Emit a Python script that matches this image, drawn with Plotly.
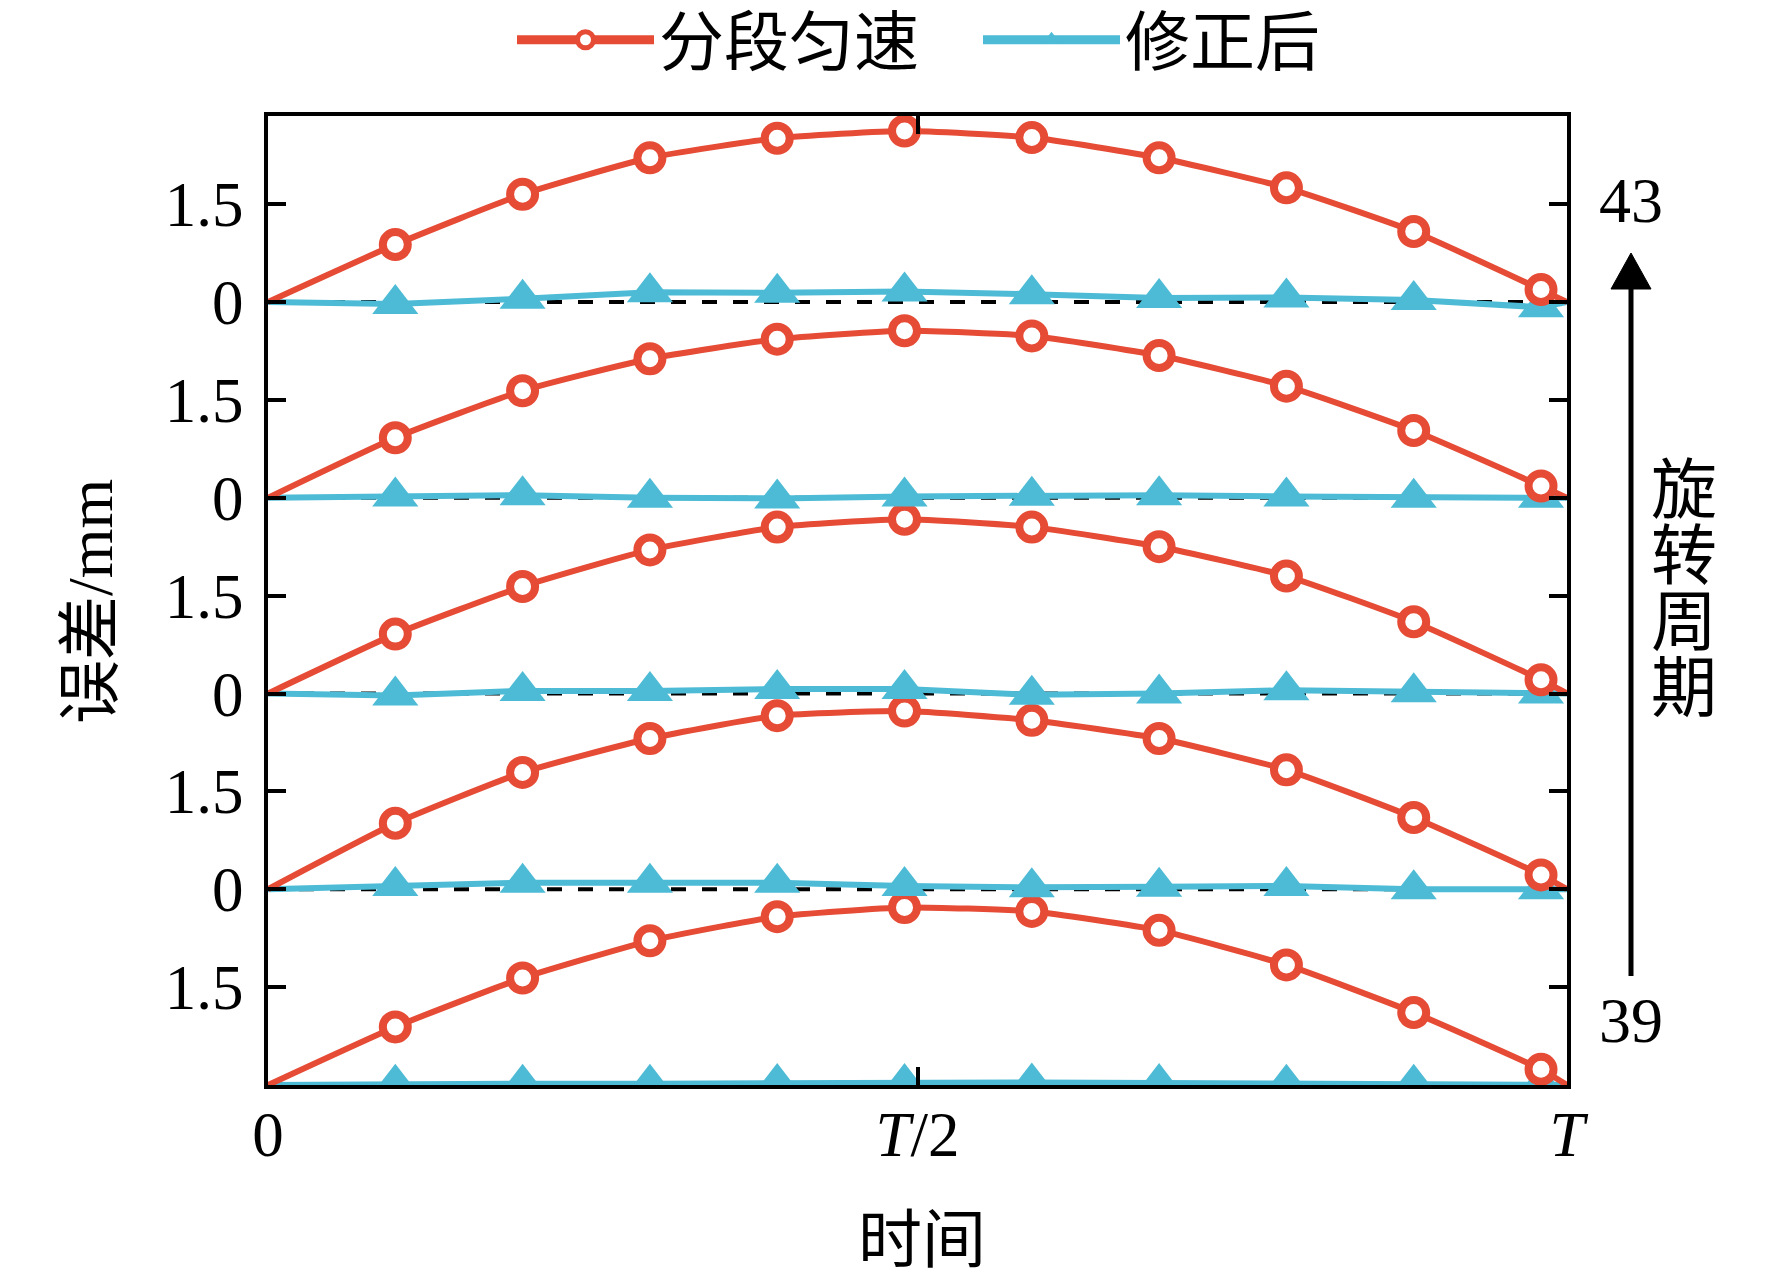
import plotly.graph_objects as go

# time as a fraction of one rotation period T
time_frac = [0.0, 0.098, 0.196, 0.294, 0.392, 0.490, 0.588, 0.686, 0.784, 0.882, 0.980, 1.0]

# rotation periods, bottom to top
periods = [39, 40, 41, 42, 43]

# 分段匀速 error (mm), one list per period
piecewise_39 = [0, 0.89, 1.64, 2.21, 2.58, 2.72, 2.66, 2.37, 1.84, 1.11, 0.24, 0]
piecewise_40 = [0, 1.01, 1.79, 2.31, 2.66, 2.73, 2.59, 2.31, 1.83, 1.10, 0.22, 0]
piecewise_41 = [0, 0.91, 1.64, 2.20, 2.55, 2.67, 2.55, 2.25, 1.80, 1.10, 0.21, 0]
piecewise_42 = [0, 0.92, 1.64, 2.13, 2.43, 2.56, 2.48, 2.18, 1.71, 1.03, 0.18, 0]
piecewise_43 = [0, 0.88, 1.65, 2.21, 2.51, 2.62, 2.52, 2.21, 1.75, 1.08, 0.19, 0]

# 修正后 error (mm), one list per period
corrected_39 = [0, 0.02, 0.02, 0.02, 0.03, 0.03, 0.04, 0.03, 0.02, 0.02, 0.01, 0]
corrected_40 = [0, 0.05, 0.10, 0.10, 0.10, 0.05, 0.03, 0.04, 0.05, 0.00, 0.00, 0]
corrected_41 = [0, -0.03, 0.04, 0.04, 0.07, 0.07, -0.02, 0.00, 0.05, 0.02, 0.00, 0]
corrected_42 = [0, 0.02, 0.04, 0.00, -0.01, 0.02, 0.03, 0.04, 0.02, 0.00, 0.00, 0]
corrected_43 = [0, -0.03, 0.05, 0.15, 0.14, 0.16, 0.12, 0.06, 0.07, 0.03, -0.08, 0]

piecewise = [piecewise_39, piecewise_40, piecewise_41, piecewise_42, piecewise_43]
corrected = [corrected_39, corrected_40, corrected_41, corrected_42, corrected_43]

y_tickvals = [1.5, 3, 4.5, 6, 7.5, 9, 10.5, 12, 13.5]
y_ticktext = ["1.5", "0", "1.5", "0", "1.5", "0", "1.5", "0", "1.5"]
x_tickvals = [0, 0.5, 1]
x_ticktext = ["0", "<i>T</i>/2", "<i>T</i>"]

band_step = 3
RED = "#E64B35"
BLUE = "#4DBBD5"
FONT = "Liberation Serif, Noto Sans CJK SC"

# the page body adds an 8px offset, so the figure is a little smaller
PAGE = 8
W, H = 1772 - PAGE, 1281 - PAGE
L, R, T, B = 260, 205, 108, 196
pw, ph = W - L - R, H - T - B


def px(xs):
    # screen x (reference pixels) -> paper x
    return (xs - PAGE - L) / pw


def py(ys):
    # screen y (reference pixels) -> paper y
    return (H - B - (ys - PAGE)) / ph


fig = go.Figure()

for i, p in enumerate(periods):
    off = i * band_step
    red_y = [v + off for v in piecewise[i]]
    blue_y = [v + off for v in corrected[i]]
    fig.add_shape(type="line", xref="x", yref="y", x0=0, x1=1, y0=off, y1=off,
                  line=dict(color="black", width=4, dash="15px,16px"), layer="below")
    # lines over the whole period, markers only at the sample points
    fig.add_trace(go.Scatter(x=time_frac, y=blue_y, mode="lines", showlegend=False,
                             line=dict(color=BLUE, width=6)))
    fig.add_trace(go.Scatter(x=time_frac[1:-1], y=blue_y[1:-1], mode="markers", showlegend=False,
                             marker=dict(symbol="triangle-up", size=40, color=BLUE, line=dict(width=0))))
    fig.add_trace(go.Scatter(x=time_frac, y=red_y, mode="lines", showlegend=False,
                             line=dict(color=RED, width=6, shape="spline", smoothing=0.5)))
    fig.add_trace(go.Scatter(x=time_frac[1:-1], y=red_y[1:-1], mode="markers", showlegend=False,
                             marker=dict(symbol="circle", size=25, color="white",
                                         line=dict(color=RED, width=8))))

# legend entries
fig.add_trace(go.Scatter(x=[None], y=[None], mode="lines+markers", name="分段匀速",
                         line=dict(color=RED, width=9),
                         marker=dict(symbol="circle", size=16, color="white", line=dict(color=RED, width=5))))
fig.add_trace(go.Scatter(x=[None], y=[None], mode="lines+markers", name="修正后",
                         line=dict(color=BLUE, width=9),
                         marker=dict(symbol="triangle-up", size=16, color=BLUE, line=dict(width=0))))

axis_common = dict(showline=True, linecolor="black", linewidth=4, mirror="ticks",
                   ticks="inside", ticklen=18, tickwidth=4, tickcolor="black",
                   showgrid=False, zeroline=False,
                   tickfont=dict(family=FONT, size=63, color="black"))

fig.update_xaxes(range=[0, 1], tickmode="array", tickvals=x_tickvals, ticktext=x_ticktext,
                 ticklabelstandoff=-9, **axis_common)
fig.update_yaxes(range=[0, 969 / 65.25], tickmode="array", tickvals=y_tickvals, ticktext=y_ticktext,
                 ticklabelstandoff=8, **axis_common)

annotations = [
    dict(text="误差/mm", x=px(90), y=py(602), textangle=-90, font=dict(size=64)),
    dict(text="时间", x=px(922), y=py(1240), font=dict(size=64)),
    dict(text="43", x=px(1631), y=py(200), font=dict(size=64)),
    dict(text="39", x=px(1631), y=py(1020), font=dict(size=64)),
]
for k, ch in enumerate("旋转周期"):
    annotations.append(dict(text=ch, x=px(1684), y=py(490 + 66 * k), font=dict(size=66)))
for a in annotations:
    a.update(xref="paper", yref="paper", showarrow=False, xanchor="center", yanchor="middle")
    a["font"].update(family=FONT, color="black")

# arrow pointing to later periods
fig.add_shape(type="line", xref="paper", yref="paper", x0=px(1631), x1=px(1631),
              y0=py(976), y1=py(284), line=dict(color="black", width=5))
fig.add_shape(type="path", xref="paper", yref="paper",
              path=f"M{px(1631)},{py(253)} L{px(1611)},{py(289)} L{px(1651)},{py(289)} Z",
              fillcolor="black", line=dict(color="black", width=1))

fig.update_layout(
    width=W, height=H,
    margin=dict(l=L, r=R, t=T, b=B, autoexpand=False),
    paper_bgcolor="white", plot_bgcolor="white",
    font=dict(family=FONT, size=60, color="black"),
    annotations=annotations,
    legend=dict(orientation="h", x=px(512), xanchor="left", y=py(40), yanchor="middle",
                font=dict(family=FONT, size=65), itemwidth=137, entrywidth=314,
                entrywidthmode="pixels", bgcolor="rgba(0,0,0,0)"),
)

fig.write_html("out.html")
